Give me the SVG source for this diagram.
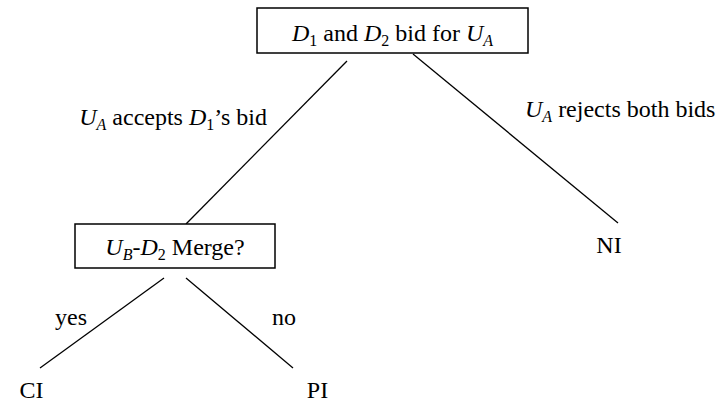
<svg xmlns="http://www.w3.org/2000/svg" width="724" height="406" viewBox="0 0 724 406">
<style>
text{font-family:"Liberation Serif","Times New Roman",serif;font-size:24px;fill:#000}
.i{font-style:italic}
.s{font-size:16px}
.box{fill:#fff;stroke:#000;stroke-width:1.5}
line{stroke:#000;stroke-width:1.3}
</style>
<rect width="724" height="406" fill="#fff"/>
<g id="connectors">
<line x1="347" y1="61" x2="186" y2="224"/>
<line x1="413" y1="54" x2="618" y2="223"/>
<line x1="164" y1="278" x2="40" y2="368"/>
<line x1="186" y1="278" x2="293" y2="368"/>
<text x="267" y="125" text-anchor="end"><tspan class="i">U</tspan><tspan class="i s" dy="5">A</tspan><tspan dy="-5"> accepts </tspan><tspan class="i">D</tspan><tspan class="s" dy="5">1</tspan><tspan dy="-5">’s bid</tspan></text>
<text x="525" y="117"><tspan class="i">U</tspan><tspan class="i s" dy="5">A</tspan><tspan dy="-5"> rejects both bids</tspan></text>
<text x="55" y="325">yes</text>
<text x="272" y="325">no</text>
</g>
<g id="root">
<rect class="box" x="257" y="8" width="271" height="45"/>
<text x="392.5" y="41" text-anchor="middle"><tspan class="i">D</tspan><tspan class="s" dy="5">1</tspan><tspan dy="-5"> and </tspan><tspan class="i">D</tspan><tspan class="s" dy="5">2</tspan><tspan dy="-5"> bid for </tspan><tspan class="i">U</tspan><tspan class="i s" dy="5">A</tspan></text>
</g>
<g id="merge">
<rect class="box" x="75" y="224" width="200" height="44"/>
<text x="175" y="255" text-anchor="middle"><tspan class="i">U</tspan><tspan class="i s" dy="5">B</tspan><tspan dy="-5">-</tspan><tspan class="i">D</tspan><tspan class="s" dy="5">2</tspan><tspan dy="-5"> Merge?</tspan></text>
</g>
<g id="ni"><text x="609" y="253" text-anchor="middle">NI</text></g>
<g id="ci"><text x="31.5" y="398" text-anchor="middle">CI</text></g>
<g id="pi"><text x="317.5" y="398" text-anchor="middle">PI</text></g>
</svg>
